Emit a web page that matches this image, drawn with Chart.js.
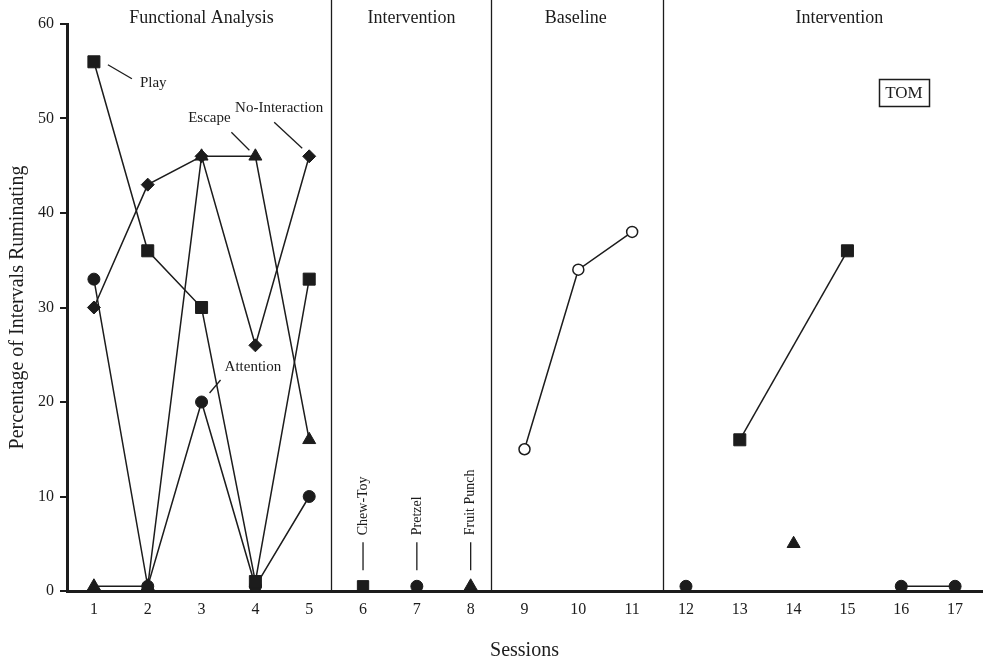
<!DOCTYPE html>
<html>
<head>
<meta charset="utf-8">
<script src="https://cdn.jsdelivr.net/npm/chart.js@4/dist/chart.umd.min.js"></script>
<style>
  html, body { margin: 0; padding: 0; background: #fff; }
</style>
</head>
<body>
<canvas id="rumChart" width="984" height="666"></canvas>
<script>
// sessions / tick labels
const sessions = [1, 2, 3, 4, 5, 6, 7, 8, 9, 10, 11, 12, 13, 14, 15, 16, 17];
const yTicks = [0, 10, 20, 30, 40, 50, 60];

// phases
const phaseNames = ['Functional Analysis', 'Intervention', 'Baseline', 'Intervention'];
const phaseLabelAt = [3, 6.9, 9.95, 14.85];
const phaseChanges = [5.4, 8.38, 11.58];

// functional analysis
const faSessions = [1, 2, 3, 4, 5];
const play = [56, 36, 30, 1, 33];
const attention = [33, 0.5, 20, 0.5, 10];
const escape = [0.5, 0.5, 46, 46, 16];
const noInteraction = [30, 43, 46, 26, 46];

// first intervention (single probes)
const probeSessions = [6, 7, 8];
const probeValues = [0.5, 0.5, 0.5];
const probeNames = ['Chew-Toy', 'Pretzel', 'Fruit Punch'];

// baseline
const baselineSessions = [9, 10, 11];
const baseline = [15, 34, 38];

// second intervention (TOM)
const tomSessions = [12, 13, 14, 15, 16, 17];
const tomCircle = [0.5, null, null, null, 0.5, 0.5];
const tomSquare = [null, 16, null, 36, null, null];
const tomTriangle = [null, null, 5, null, null, null];

const ink = '#1c1c1c';
const serif = 'Liberation Serif';

const pts = (xs, ys) => xs.map((x, i) => ({ x: x, y: ys[i] }));

function series(data, style, radius, extra) {
  return Object.assign({
    data: data,
    borderColor: ink,
    borderWidth: 1.5,
    pointStyle: style,
    pointRadius: radius,
    pointBackgroundColor: ink,
    pointBorderColor: ink,
    pointBorderWidth: 1,
    spanGaps: false,
  }, extra || {});
}

// phase lines, phase titles, condition labels
const notes = {
  id: 'notes',
  beforeDatasetsDraw(chart) {
    const { ctx, scales: { x }, chartArea } = chart;
    ctx.save();
    ctx.strokeStyle = ink;
    ctx.lineWidth = 1.3;
    phaseChanges.forEach(v => {
      const px = Math.round(x.getPixelForValue(v)) + 0.5;
      ctx.beginPath();
      ctx.moveTo(px, 0);
      ctx.lineTo(px, chartArea.bottom);
      ctx.stroke();
    });
    ctx.restore();
  },
  afterDatasetsDraw(chart) {
    const { ctx, scales: { x, y } } = chart;
    ctx.save();
    ctx.fillStyle = ink;
    ctx.strokeStyle = ink;
    ctx.lineWidth = 1.3;

    ctx.font = '18px "' + serif + '"';
    ctx.textAlign = 'center';
    ctx.textBaseline = 'middle';
    phaseNames.forEach((t, i) => ctx.fillText(t, x.getPixelForValue(phaseLabelAt[i]), 18));

    // condition labels for the functional analysis
    const labels = [
      { text: 'Play', s: 1, v: play[0], dx: 46, dy: 21, align: 'left', l: [14, 3, 38, 17] },
      { text: 'Escape', s: 4, v: escape[3], dx: -46, dy: -38, align: 'center', l: [-24, -24, -6, -6] },
      { text: 'No-Interaction', s: 5, v: noInteraction[4], dx: -30, dy: -48, align: 'center', l: [-35, -34, -7, -8] },
      { text: 'Attention', s: 3, v: attention[2], dx: 23, dy: -35, align: 'left', l: [8, -9, 19, -22] },
    ];
    ctx.font = '15px "' + serif + '"';
    labels.forEach(o => {
      const px = x.getPixelForValue(o.s), py = y.getPixelForValue(o.v);
      ctx.textAlign = o.align;
      ctx.fillText(o.text, px + o.dx, py + o.dy);
      ctx.beginPath();
      ctx.moveTo(px + o.l[0], py + o.l[1]);
      ctx.lineTo(px + o.l[2], py + o.l[3]);
      ctx.stroke();
    });

    // rotated probe names
    ctx.font = '14px "' + serif + '"';
    probeSessions.forEach((s, i) => {
      const px = x.getPixelForValue(s), py = y.getPixelForValue(probeValues[i]);
      ctx.beginPath();
      ctx.moveTo(px, py - 44);
      ctx.lineTo(px, py - 16);
      ctx.stroke();
      ctx.save();
      ctx.translate(px, py - 51);
      ctx.rotate(-Math.PI / 2);
      ctx.textAlign = 'left';
      ctx.fillText(probeNames[i], 0, 0);
      ctx.restore();
    });

    // TOM box
    const bx = x.getPixelForValue(16.05), by = y.getPixelForValue(52.8);
    ctx.lineWidth = 1.5;
    ctx.strokeRect(Math.round(bx - 25) + 0.5, Math.round(by - 13) + 0.5, 50, 27);
    ctx.font = '17px "' + serif + '"';
    ctx.textAlign = 'center';
    ctx.fillText('TOM', bx, by + 1);
    ctx.restore();
  }
};

new Chart(document.getElementById('rumChart'), {
  type: 'line',
  data: {
    datasets: [
      series(pts(faSessions, play), 'rect', 8.5),
      series(pts(faSessions, attention), 'circle', 6),
      series(pts(faSessions, escape), 'triangle', 7.5),
      series(pts(faSessions, noInteraction), 'rectRot', 6.5),
      series(pts(probeSessions, probeValues), ['rect', 'circle', 'triangle'], [8, 6, 7.5], { showLine: false }),
      series(pts(baselineSessions, baseline), 'circle', 5.5, { pointBackgroundColor: '#fff', pointBorderWidth: 1.5 }),
      series(pts(tomSessions, tomCircle), 'circle', 6),
      series(pts(tomSessions, tomSquare), 'rect', 8.5, { spanGaps: true }),
      series(pts(tomSessions, tomTriangle), 'triangle', 7.5),
    ]
  },
  options: {
    responsive: false,
    animation: false,
    layout: { autoPadding: false, padding: { top: 24, right: 2, left: 0, bottom: 0 } },
    plugins: { legend: { display: false }, tooltip: { enabled: false } },
    scales: {
      x: {
        type: 'linear',
        min: 0.5,
        max: 17.5,
        afterBuildTicks: s => { s.ticks = sessions.map(v => ({ value: v })); },
        afterFit: s => { s.height = 75; s.paddingLeft = 0; s.paddingRight = 0; },
        ticks: { color: ink, font: { family: serif, size: 16 }, padding: 9, maxRotation: 0, autoSkip: false },
        grid: { display: false, drawTicks: false },
        border: { display: true, color: ink, width: 3 },
        title: { display: true, text: 'Sessions', color: ink, font: { family: serif, size: 20 }, padding: { top: 0, bottom: 3 } }
      },
      y: {
        min: 0,
        max: 60,
        afterBuildTicks: s => { s.ticks = yTicks.map(v => ({ value: v })); },
        afterFit: s => { s.width = 67; s.paddingTop = 0; s.paddingBottom = 0; },
        ticks: { color: ink, font: { family: serif, size: 16 }, padding: 6 },
        grid: { drawOnChartArea: false, drawTicks: true, tickLength: 7, color: ink, lineWidth: 2 },
        border: { display: true, color: ink, width: 3 },
        title: { display: true, text: 'Percentage of Intervals Ruminating', color: ink, font: { family: serif, size: 20 }, padding: { top: 6, bottom: 0 } }
      }
    }
  },
  plugins: [notes]
});
</script>
</body>
</html>
